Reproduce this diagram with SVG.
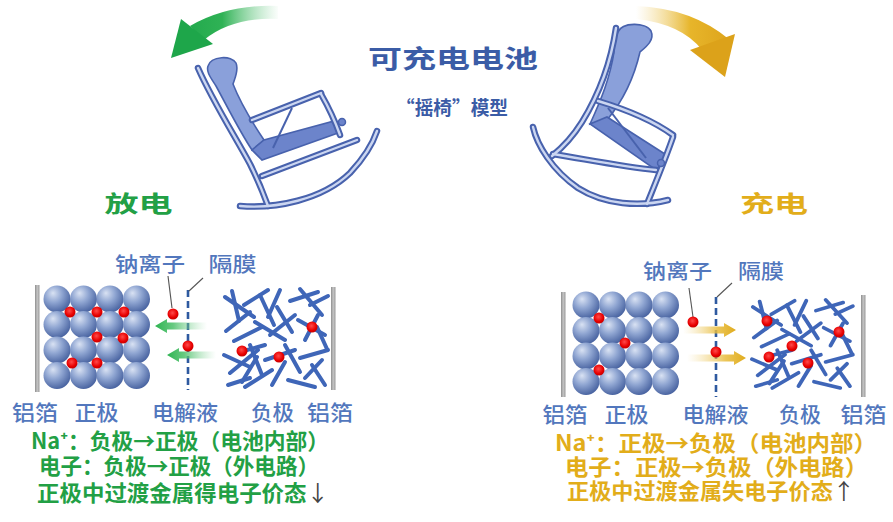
<svg xmlns="http://www.w3.org/2000/svg" xmlns:xlink="http://www.w3.org/1999/xlink" width="893" height="522" viewBox="0 0 893 522">
  <style>
    text { font-family: "Noto Sans CJK SC", "Noto Sans", sans-serif; }
    .title { font-weight: 700; fill: #3b5ca6; }
    .lbl { font-weight: 500; fill: #5277bd; }
    .green { font-weight: 700; fill: #22a045; }
    .gold { font-weight: 700; fill: #e2ad1a; }
    .tick { fill: #444; font-weight: 400; }
    .rail-o { fill: none; stroke: #4862ad; stroke-width: 6.5; stroke-linecap: round; stroke-linejoin: round; }
    .rail-i { fill: none; stroke: #cbd6f1; stroke-width: 2.4; stroke-linecap: round; stroke-linejoin: round; }
    .cushion { fill: #8aa0da; stroke: #4862ad; stroke-width: 1.6; }
    .seat { fill: #6c84cb; stroke: #4862ad; stroke-width: 1.6; }
    .brace { fill: none; stroke: #4862ad; stroke-width: 2; }
    .sph { fill: url(#sphere); }
    .ion { fill: url(#ion); }
    .foil { fill: url(#foil); }
    .sep { stroke: #2e5aa0; stroke-width: 2.6; stroke-dasharray: 7 4; fill: none; }
    .leader { stroke: #555; stroke-width: 1.1; fill: none; }
    .stick { stroke: #3f66b8; stroke-width: 4; stroke-linecap: round; }
  </style>
  <defs>
    <radialGradient id="sphere" cx="0.4" cy="0.35" r="0.7" fx="0.35" fy="0.28">
      <stop offset="0" stop-color="#d9e2f3"/>
      <stop offset="0.45" stop-color="#90a6d2"/>
      <stop offset="1" stop-color="#425d9c"/>
    </radialGradient>
    <radialGradient id="ion" cx="0.45" cy="0.4" r="0.6">
      <stop offset="0" stop-color="#ff4a4a"/>
      <stop offset="0.7" stop-color="#e80000"/>
      <stop offset="1" stop-color="#c40000"/>
    </radialGradient>
    <linearGradient id="foil" x1="0" x2="1" y1="0" y2="0">
      <stop offset="0" stop-color="#8e8e8e"/>
      <stop offset="0.5" stop-color="#c4c4c4"/>
      <stop offset="1" stop-color="#9a9a9a"/>
    </linearGradient>
    <linearGradient id="ionArrowL" x1="0" x2="1" y1="0" y2="0">
      <stop offset="0" stop-color="#2db350"/>
      <stop offset="0.35" stop-color="#4cc06a" stop-opacity="0.85"/>
      <stop offset="1" stop-color="#9bdcaa" stop-opacity="0"/>
    </linearGradient>
    <linearGradient id="ionArrowR" x1="0" x2="1" y1="0" y2="0">
      <stop offset="0" stop-color="#f3d98e" stop-opacity="0"/>
      <stop offset="0.65" stop-color="#e8bc3c" stop-opacity="0.85"/>
      <stop offset="1" stop-color="#e0ab1c"/>
    </linearGradient>
    <linearGradient id="swingL" gradientUnits="userSpaceOnUse" x1="175" y1="0" x2="280" y2="0">
      <stop offset="0" stop-color="#1ea64a"/>
      <stop offset="0.45" stop-color="#2fb255"/>
      <stop offset="1" stop-color="#7fd196" stop-opacity="0"/>
    </linearGradient>
    <linearGradient id="swingR" gradientUnits="userSpaceOnUse" x1="636" y1="0" x2="735" y2="0">
      <stop offset="0" stop-color="#f0d27a" stop-opacity="0"/>
      <stop offset="0.55" stop-color="#e7b52a"/>
      <stop offset="1" stop-color="#dca21a"/>
    </linearGradient>

    <!-- chair rails, drawn twice: dark tube outline, then light core -->
    <g id="railsL">
      <path d="M240,206 C275,209 322,200 350,173 C365,157 373,143 377,131"/>
      <path d="M198,68 C212,100 236,138 250,164 C258,180 264,195 268,206"/>
      <path d="M252,120 L321,93"/>
      <path d="M321,94 C329,108 335,121 340,135"/>
      <path d="M262,176 L357,140"/>
    </g>
    <g id="railsR">
      <path d="M533,127 C537,145 552,170 578,188 C605,205 640,207 668,200"/>
      <path d="M616,28 C611,62 598,96 582,122 C572,138 562,148 552,156"/>
      <path d="M598,101 C628,110 655,122 673,135"/>
      <path d="M673,137 C665,160 655,184 647,204"/>
      <path d="M553,154 C590,160 625,167 656,170"/>
    </g>

    <!-- hard-carbon anode: tangled sticks in a 108 x 100 box -->
    <g id="carbon" class="stick">
      <line x1="3" y1="10" x2="32" y2="30"/>
      <line x1="10" y1="4" x2="17" y2="34"/>
      <line x1="22" y1="18" x2="46" y2="3"/>
      <line x1="38" y1="8" x2="52" y2="38"/>
      <line x1="58" y1="3" x2="46" y2="30"/>
      <line x1="68" y1="14" x2="96" y2="5"/>
      <line x1="78" y1="2" x2="100" y2="28"/>
      <line x1="88" y1="18" x2="106" y2="9"/>
      <line x1="4" y1="44" x2="28" y2="25"/>
      <line x1="12" y1="54" x2="40" y2="40"/>
      <line x1="33" y1="35" x2="63" y2="53"/>
      <line x1="48" y1="48" x2="73" y2="28"/>
      <line x1="76" y1="33" x2="103" y2="48"/>
      <line x1="83" y1="53" x2="96" y2="28"/>
      <line x1="2" y1="68" x2="28" y2="80"/>
      <line x1="8" y1="86" x2="36" y2="63"/>
      <line x1="28" y1="58" x2="40" y2="88"/>
      <line x1="43" y1="73" x2="73" y2="63"/>
      <line x1="63" y1="58" x2="78" y2="85"/>
      <line x1="78" y1="71" x2="106" y2="63"/>
      <line x1="90" y1="78" x2="103" y2="98"/>
      <line x1="6" y1="98" x2="28" y2="91"/>
      <line x1="23" y1="100" x2="50" y2="83"/>
      <line x1="50" y1="98" x2="63" y2="75"/>
      <line x1="66" y1="93" x2="93" y2="100"/>
      <line x1="83" y1="91" x2="100" y2="73"/>
      <line x1="18" y1="65" x2="43" y2="58"/>
      <line x1="55" y1="20" x2="70" y2="45"/>
      <line x1="95" y1="40" x2="105" y2="62"/>
      <line x1="35" y1="70" x2="20" y2="95"/>
    </g>

    <!-- layered-oxide cathode: 4 x 4 spheres -->
    <g id="cathode">
      <circle class="sph" cx="0" cy="0" r="13.5"/>
      <circle class="sph" cx="26.5" cy="0" r="13.5"/>
      <circle class="sph" cx="53" cy="0" r="13.5"/>
      <circle class="sph" cx="79.5" cy="0" r="13.5"/>
      <circle class="sph" cx="0" cy="25.5" r="13.5"/>
      <circle class="sph" cx="26.5" cy="25.5" r="13.5"/>
      <circle class="sph" cx="53" cy="25.5" r="13.5"/>
      <circle class="sph" cx="79.5" cy="25.5" r="13.5"/>
      <circle class="sph" cx="0" cy="51" r="13.5"/>
      <circle class="sph" cx="26.5" cy="51" r="13.5"/>
      <circle class="sph" cx="53" cy="51" r="13.5"/>
      <circle class="sph" cx="79.5" cy="51" r="13.5"/>
      <circle class="sph" cx="0" cy="76.5" r="13.5"/>
      <circle class="sph" cx="26.5" cy="76.5" r="13.5"/>
      <circle class="sph" cx="53" cy="76.5" r="13.5"/>
      <circle class="sph" cx="79.5" cy="76.5" r="13.5"/>
    </g>
  </defs>

  <rect width="893" height="522" fill="#ffffff"/>

  <!-- heading -->
  <g id="heading">
    <text class="title" x="453" y="68" font-size="25" text-anchor="middle" textLength="170" lengthAdjust="spacingAndGlyphs">可充电电池</text>
    <text class="title" x="452" y="115" font-size="19" text-anchor="middle" textLength="112" lengthAdjust="spacingAndGlyphs">“摇椅”模型</text>
  </g>

  <!-- swing arrows -->
  <g id="swing-discharge">
    <path d="M190,26 Q228,4 278,6 L278,19 Q232,17 204,40 Z" fill="url(#swingL)"/>
    <path d="M171,58 L181,19 L213,44 Z" fill="#1ea64a"/>
  </g>
  <g id="swing-charge">
    <path d="M636,6 Q692,8 730,40 L702,50 Q682,24 636,19 Z" fill="url(#swingR)"/>
    <path d="M690,50 L735,34 L725,77 Z" fill="#dca21a"/>
  </g>

  <!-- rocking chair, leaning back -->
  <g id="chair-discharge">
    <path class="cushion" d="M208,66 C211,56 232,55 236,63 C239,70 235,78 233,84 C240,102 252,122 264,140 L252,150 C240,132 228,108 216,86 C211,78 206,72 208,66 Z"/>
    <path class="seat" d="M252,150 L264,140 L334,121 L338,133 L262,160 Z"/>
    <path class="brace" d="M292,108 L273,148"/>
    <use href="#railsL" class="rail-o"/>
    <use href="#railsL" class="rail-i"/>
    <circle cx="342" cy="122" r="3.5" fill="#6c84cb" stroke="#4862ad" stroke-width="1.5"/>
  </g>

  <!-- rocking chair, tipped forward -->
  <g id="chair-charge">
    <path class="cushion" d="M618,32 C622,22 646,22 651,31 C655,40 646,47 640,52 C634,78 622,102 607,120 L590,124 C601,100 610,78 614,52 C614,43 615,37 618,32 Z"/>
    <path class="seat" d="M590,124 L607,117 L668,156 L656,170 Z"/>
    <path class="brace" d="M608,108 L646,158"/>
    <use href="#railsR" class="rail-o"/>
    <use href="#railsR" class="rail-i"/>
    <circle cx="661" cy="163" r="3.5" fill="#6c84cb" stroke="#4862ad" stroke-width="1.5"/>
  </g>

  <!-- mode titles -->
  <text id="label-discharge" class="green" x="138.5" y="212" font-size="23" text-anchor="middle" textLength="68" lengthAdjust="spacingAndGlyphs">放电</text>
  <text id="label-charge" class="gold" x="774" y="212" font-size="23" text-anchor="middle" textLength="68" lengthAdjust="spacingAndGlyphs">充电</text>

  <!-- discharge cell -->
  <g id="cell-discharge">
    <rect class="foil" x="35" y="285" width="4.5" height="107"/>
    <use href="#cathode" x="57" y="299"/>
    <circle class="ion" cx="70" cy="312" r="5.5"/>
    <circle class="ion" cx="97" cy="312" r="5.5"/>
    <circle class="ion" cx="124" cy="312" r="5.5"/>
    <circle class="ion" cx="97" cy="337" r="5.5"/>
    <circle class="ion" cx="123" cy="338" r="5.5"/>
    <circle class="ion" cx="72" cy="363" r="5.5"/>
    <circle class="ion" cx="97" cy="363" r="5.5"/>
    <line class="sep" x1="188" y1="290" x2="188" y2="390"/>
    <use href="#carbon" transform="translate(222,287)"/>
    <circle class="ion" cx="242" cy="351" r="5.5"/>
    <circle class="ion" cx="279" cy="357" r="5.5"/>
    <circle class="ion" cx="312" cy="327" r="5.5"/>
    <rect class="foil" x="331" y="287" width="4.5" height="103"/>
  </g>

  <!-- charge cell -->
  <g id="cell-charge">
    <rect class="foil" x="561" y="292" width="4.5" height="105"/>
    <use href="#cathode" x="586" y="305"/>
    <circle class="ion" cx="599" cy="318" r="5.5"/>
    <circle class="ion" cx="625" cy="343" r="5.5"/>
    <circle class="ion" cx="599" cy="370" r="5.5"/>
    <line class="sep" x1="716" y1="297" x2="716" y2="397"/>
    <use href="#carbon" transform="translate(750,298) scale(0.97,0.9)"/>
    <circle class="ion" cx="767" cy="321" r="5.5"/>
    <circle class="ion" cx="839" cy="332" r="5.5"/>
    <circle class="ion" cx="792" cy="346" r="5.5"/>
    <circle class="ion" cx="769" cy="357" r="5.5"/>
    <circle class="ion" cx="808" cy="363" r="5.5"/>
    <rect class="foil" x="861" y="295" width="4.5" height="102"/>
  </g>

  <!-- ion-flow arrows and callout leaders -->
  <g id="connectors">
    <path d="M155,326 L167,319 L167,322.5 L207,322.5 L207,329.5 L167,329.5 L167,333 Z" fill="url(#ionArrowL)"/>
    <path d="M167,355 L179,348 L179,351.5 L216,351.5 L216,358.5 L179,358.5 L179,362 Z" fill="url(#ionArrowL)"/>
    <path d="M736,330 L724,323 L724,326.5 L683,326.5 L683,333.5 L724,333.5 L724,337 Z" fill="url(#ionArrowR)"/>
    <path d="M746,358 L734,351 L734,354.5 L687,354.5 L687,361.5 L734,361.5 L734,365 Z" fill="url(#ionArrowR)"/>
    <line class="leader" x1="168" y1="276" x2="172" y2="308"/>
    <line class="leader" x1="203" y1="278" x2="189" y2="291"/>
    <line class="leader" x1="689" y1="288" x2="693" y2="317"/>
    <line class="leader" x1="732" y1="283" x2="717" y2="297"/>
  </g>
  <circle class="ion" cx="173" cy="314" r="5.5"/>
  <circle class="ion" cx="188" cy="346" r="5.5"/>
  <circle class="ion" cx="693" cy="322" r="5.5"/>
  <circle class="ion" cx="716" cy="352" r="5.5"/>

  <!-- callout and part labels -->
  <g id="labels-discharge">
    <text class="lbl" x="150" y="272" font-size="20" text-anchor="middle" textLength="70" lengthAdjust="spacingAndGlyphs">钠离子</text>
    <text class="lbl" x="232.5" y="272" font-size="20" text-anchor="middle" textLength="48" lengthAdjust="spacingAndGlyphs">隔膜</text>
    <text class="lbl" x="35" y="420" font-size="21" text-anchor="middle" textLength="46" lengthAdjust="spacingAndGlyphs">铝箔</text>
    <text class="lbl" x="96.5" y="420" font-size="21" text-anchor="middle" textLength="44" lengthAdjust="spacingAndGlyphs">正极</text>
    <text class="lbl" x="185" y="420" font-size="21" text-anchor="middle" textLength="66" lengthAdjust="spacingAndGlyphs">电解液</text>
    <text class="lbl" x="272.5" y="420" font-size="21" text-anchor="middle" textLength="43" lengthAdjust="spacingAndGlyphs">负极</text>
    <text class="lbl" x="330" y="420" font-size="21" text-anchor="middle" textLength="46" lengthAdjust="spacingAndGlyphs">铝箔</text>
  </g>
  <g id="labels-charge">
    <text class="lbl" x="677.5" y="279" font-size="20" text-anchor="middle" textLength="69" lengthAdjust="spacingAndGlyphs">钠离子</text>
    <text class="lbl" x="761" y="279" font-size="20" text-anchor="middle" textLength="46" lengthAdjust="spacingAndGlyphs">隔膜</text>
    <text class="lbl" x="565" y="422" font-size="21" text-anchor="middle" textLength="45" lengthAdjust="spacingAndGlyphs">铝箔</text>
    <text class="lbl" x="626.5" y="422" font-size="21" text-anchor="middle" textLength="44" lengthAdjust="spacingAndGlyphs">正极</text>
    <text class="lbl" x="715.5" y="422" font-size="21" text-anchor="middle" textLength="66" lengthAdjust="spacingAndGlyphs">电解液</text>
    <text class="lbl" x="800" y="422" font-size="21" text-anchor="middle" textLength="42" lengthAdjust="spacingAndGlyphs">负极</text>
    <text class="lbl" x="863.5" y="422" font-size="21" text-anchor="middle" textLength="46" lengthAdjust="spacingAndGlyphs">铝箔</text>
  </g>

  <!-- summaries -->
  <g id="summary-discharge">
    <text class="green" x="180" y="449" font-size="22" text-anchor="middle" textLength="298" lengthAdjust="spacingAndGlyphs">Na⁺：负极→正极（电池内部）</text>
    <text class="green" x="179" y="474" font-size="22" text-anchor="middle" textLength="280" lengthAdjust="spacingAndGlyphs">电子：负极→正极（外电路）</text>
    <text class="green" x="183" y="501" font-size="22" text-anchor="middle" textLength="292" lengthAdjust="spacingAndGlyphs">正极中过渡金属得电子价态<tspan class="tick">↓</tspan></text>
  </g>
  <g id="summary-charge">
    <text class="gold" x="716" y="451" font-size="22" text-anchor="middle" textLength="322" lengthAdjust="spacingAndGlyphs">Na⁺：正极→负极（电池内部）</text>
    <text class="gold" x="716.5" y="475" font-size="22" text-anchor="middle" textLength="303" lengthAdjust="spacingAndGlyphs">电子：正极→负极（外电路）</text>
    <text class="gold" x="711" y="499" font-size="22" text-anchor="middle" textLength="288" lengthAdjust="spacingAndGlyphs">正极中过渡金属失电子价态<tspan class="tick">↑</tspan></text>
  </g>
</svg>
